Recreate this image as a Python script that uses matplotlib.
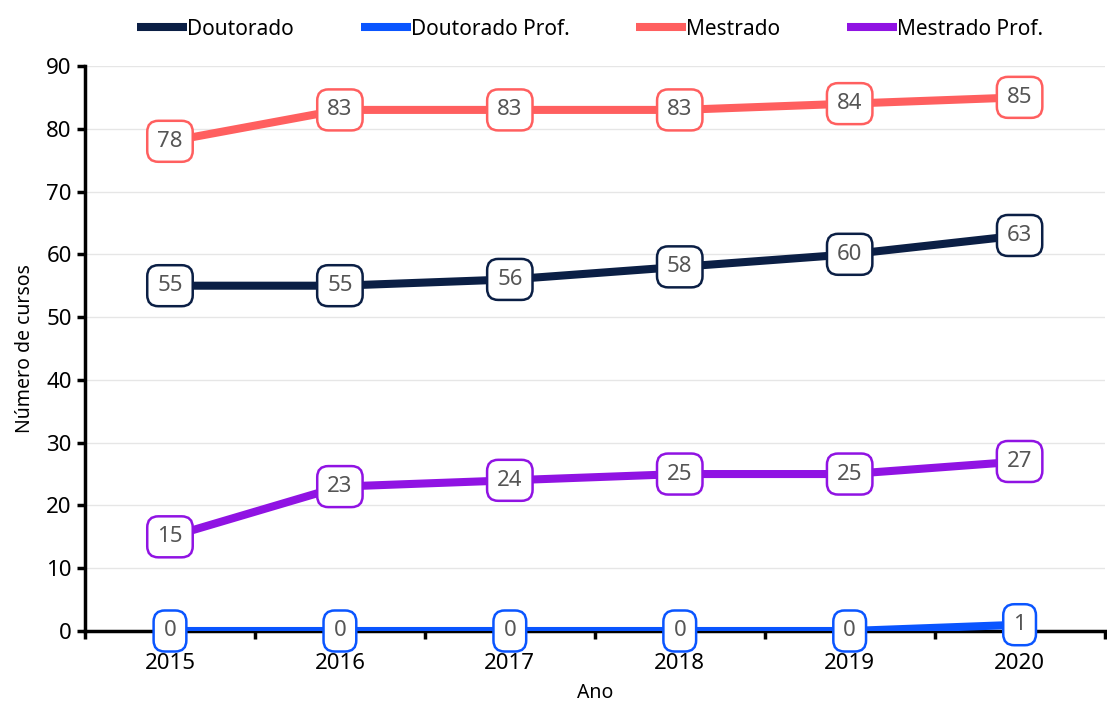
import matplotlib.pyplot as plt
import numpy as np

# number of graduate courses per year
anos = ["2015", "2016", "2017", "2018", "2019", "2020"]
doutorado = [55, 55, 56, 58, 60, 63]
doutorado_prof = [0, 0, 0, 0, 0, 1]
mestrado = [78, 83, 83, 83, 84, 85]
mestrado_prof = [15, 23, 24, 25, 25, 27]

series = [
    ("Doutorado", doutorado, "#0b1f45"),
    ("Doutorado Prof.", doutorado_prof, "#0a55ff"),
    ("Mestrado", mestrado, "#ff5f5f"),
    ("Mestrado Prof.", mestrado_prof, "#9013e3"),
]

plt.rcParams['font.family'] = ['Noto Sans', 'DejaVu Sans']

fig = plt.figure(figsize=(11.07, 7.04), dpi=100)
ax = fig.add_axes([0.0768, 0.1037, 0.921, 0.8026])

x = np.arange(len(anos))
for name, vals, color in series:
    ax.plot(x, vals, color=color, linewidth=5.8, label=name, solid_capstyle='butt', zorder=3)
    for xi, v in zip(x, vals):
        ax.text(xi, v, str(v), ha='center', va='center', fontsize=16, color='#555555', zorder=4,
                bbox=dict(boxstyle='round,pad=0.45,rounding_size=0.5', fc='white', ec=color, lw=1.8))

ax.set_xlim(-0.5, len(anos) - 0.5)
ax.set_ylim(0, 90)
ax.set_yticks(np.arange(0, 91, 10))
ax.tick_params(axis='y', labelsize=16, length=6, width=2.5, direction='out')

# category labels centred, tick marks on the category boundaries
ax.set_xticks(np.arange(-0.5, len(anos), 1.0))
ax.set_xticklabels([])
ax.set_xticks(x, minor=True)
ax.set_xticklabels(anos, minor=True, fontsize=16)
ax.tick_params(axis='x', which='major', length=6, width=2.5, direction='out')
ax.tick_params(axis='x', which='minor', length=0, pad=16)

ax.grid(axis='y', color='#e6e6e6', linewidth=1)
ax.set_axisbelow(True)
for side in ['top', 'right']:
    ax.spines[side].set_visible(False)
for side in ['left', 'bottom']:
    ax.spines[side].set_linewidth(2.5)

ax.set_xlabel("Ano", fontsize=14, labelpad=6)
ax.set_ylabel("Número de cursos", fontsize=14, labelpad=8)

fig.legend(loc='upper center', bbox_to_anchor=(0.533, 1.0), ncol=4, frameon=False,
           fontsize=15, handlelength=2.4, handletextpad=0.0, columnspacing=3.2)

fig.savefig("out.png", dpi=100)
